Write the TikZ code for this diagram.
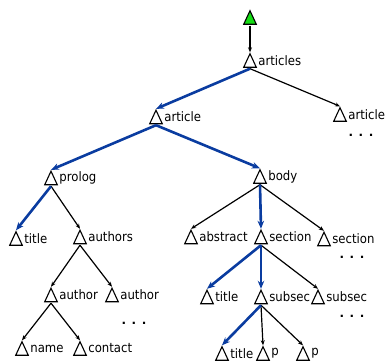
\documentclass[tikz,border=0pt]{standalone}
\usepackage{fontspec}
\setmainfont{DejaVu Sans Condensed}
\newfontfamily\dotfont{DejaVu Sans Bold}
\usetikzlibrary{arrows.meta}
\definecolor{pathblue}{RGB}{10,60,160}
\definecolor{rootgreen}{RGB}{20,220,20}
\begin{document}
\begin{tikzpicture}[x=1pt,y=-1pt,
  tri/.style={rectangle, inner sep=0pt, minimum width=15pt, minimum height=16pt,
    path picture={\draw[line width=1.1pt, fill=#1]
      ([shift={(1.2pt,1.2pt)}]path picture bounding box.south west) --
      ([yshift=-1.2pt]path picture bounding box.north) --
      ([shift={(-1.2pt,1.2pt)}]path picture bounding box.south east) -- cycle;}},
  tri/.default=white,
  lbl/.style={font=\fontsize{13}{15}\selectfont, inner sep=0.5pt},
  every label/.style={lbl},
  dots/.style={font=\dotfont\fontsize{12}{14}\selectfont, inner sep=0pt, anchor=base},
  edge/.style={-{Stealth[length=5pt,width=4pt]}, line width=1.2pt, black},
  bedge/.style={-{Stealth[length=8pt,width=6.5pt]}, line width=2.6pt, pathblue}]
\useasboundingbox (0,0) rectangle (386,363);
% nodes
\node[tri=rootgreen] (root) at (250,17.5) {};
\node[tri, label=right:articles] (articles) at (250,60.5) {};
\node[tri, label=right:article] (articleL) at (156,117) {};
\node[tri, label=right:article] (articleR) at (340,114.5) {};
\node[tri, label=right:prolog] (prolog) at (51,178) {};
\node[tri, label=right:title] (titleA) at (16,238.5) {};
\node[tri, label=right:authors] (authors) at (80,237) {};
\node[tri, label=right:body] (body) at (260,176.5) {};
\node[tri, label=right:abstract] (abstract) at (191,237) {};
\node[tri, label=right:section] (sectionM) at (261,237) {};
\node[tri, label=right:section] (sectionR) at (324,239) {};
\node[tri, label=right:author] (authorL) at (51,295) {};
\node[tri, label=right:author] (authorR) at (112,295) {};
\node[tri, label=right:name] (name) at (22,348.5) {};
\node[tri, label=right:contact] (contact) at (80,348.5) {};
\node[tri, label=right:title] (titleB) at (207,297) {};
\node[tri, label=right:subsec] (subsecM) at (261,297) {};
\node[tri, label=right:subsec] (subsecR) at (318,297) {};
\node[tri, label=right:title] (titleC) at (222,353.5) {};
\node[tri, label=right:p] (pM) at (263,353.5) {};
\node[tri, label=right:p] (pR) at (303,353.5) {};
% ellipses
\node[dots] (d1) at (361,136.5) {. . .};
\node[dots] (d2) at (352,258.5) {. . .};
\node[dots] (d3) at (352,317.5) {. . .};
\node[dots] (d4) at (134,324.5) {. . .};
% black edges
\draw[edge] (root.south) -- (articles.north);
\draw[edge] (articles.south) -- (articleR.north);
\draw[edge] (prolog.south) -- (authors.north);
\draw[edge] (authors.south) -- (authorL.north);
\draw[edge] (authors.south) -- (authorR.north);
\draw[edge] (authorL.south) -- (name.north);
\draw[edge] (authorL.south) -- (contact.north);
\draw[edge] (body.south) -- (abstract.north);
\draw[edge] (body.south) -- (sectionR.north);
\draw[edge] (sectionM.south) -- (subsecR.north);
\draw[edge] (subsecM.south) -- (pM.north);
\draw[edge] (subsecM.south) -- (pR.north);
% blue edges
\draw[bedge] (articles.south) -- (articleL.north);
\draw[bedge] (articleL.south) -- (prolog.north);
\draw[bedge] (articleL.south) -- (body.north);
\draw[bedge] (prolog.south) -- (titleA.north);
\draw[bedge] (body.south) -- (sectionM.north);
\draw[bedge] (sectionM.south) -- (titleB.north);
\draw[bedge] (sectionM.south) -- (subsecM.north);
\draw[bedge] (subsecM.south) -- (titleC.north);
\end{tikzpicture}
\end{document}
